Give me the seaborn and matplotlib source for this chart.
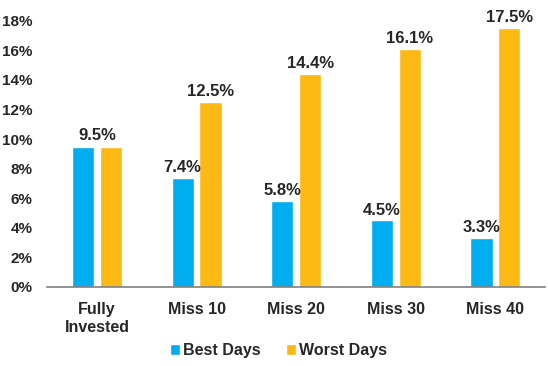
import pandas as pd
import numpy as np
import matplotlib.pyplot as plt
import seaborn as sns

# data
scenarios = ['Fully\nInvested', 'Miss 10', 'Miss 20', 'Miss 30', 'Miss 40']
best_days = [9.5, 7.4, 5.8, 4.5, 3.3]
worst_days = [9.5, 12.5, 14.4, 16.1, 17.5]
series = ['Best Days', 'Worst Days']
colors = ['#00AEEF', '#FDB913']

df = pd.DataFrame({
    'scenario': scenarios * 2,
    'series': [series[0]] * len(scenarios) + [series[1]] * len(scenarios),
    'value': best_days + worst_days,
})

sns.set_style('white')
plt.rcParams['font.family'] = ['Liberation Sans', 'DejaVu Sans']
plt.rcParams['font.weight'] = 'bold'

fig = plt.figure(figsize=(5.48, 3.66), dpi=100)
ax = fig.add_axes([0.086, 0.216, 0.909, 0.727])

sns.barplot(data=df, x='scenario', y='value', hue='series', palette=colors,
            width=0.56, gap=0.21, ax=ax, saturation=1, legend=True)

# value labels, Fully Invested gets one shared label
for i, cont in enumerate(ax.containers):
    vals = best_days if i == 0 else worst_days
    labels = ['' if j == 0 else f'{v:.1f}%' for j, v in enumerate(vals)]
    ax.bar_label(cont, labels=labels, padding=2, fontsize=12, fontweight='bold')
ax.text(0, best_days[0] + 0.25, f'{best_days[0]:.1f}%', ha='center', va='bottom',
        fontsize=12, fontweight='bold')

ax.set_ylim(0, 18)
ax.set_xlim(-0.5, 4.5)
ax.set_yticks(range(0, 19, 2))
ax.set_yticklabels([f'{t}%' for t in range(0, 19, 2)], fontsize=11, fontweight='bold')
ax.tick_params(axis='x', labelsize=11.5, pad=7)
ax.tick_params(axis='y', pad=7)
for lab in ax.get_xticklabels():
    lab.set_fontweight('bold')
    lab.set_linespacing(1.3)
ax.set_xlabel('')
ax.set_ylabel('')

for s in ['top', 'right', 'left']:
    ax.spines[s].set_visible(False)
ax.spines['bottom'].set_color('#808080')
ax.spines['bottom'].set_linewidth(1.2)

ax.legend(loc='lower center', bbox_to_anchor=(0.465, -0.32), ncol=2, frameon=False,
          handlelength=0.6, handleheight=0.7, handletextpad=0.2, columnspacing=1.6,
          prop={'size': 11.5, 'weight': 'bold'})

plt.savefig('out.png', dpi=100)
